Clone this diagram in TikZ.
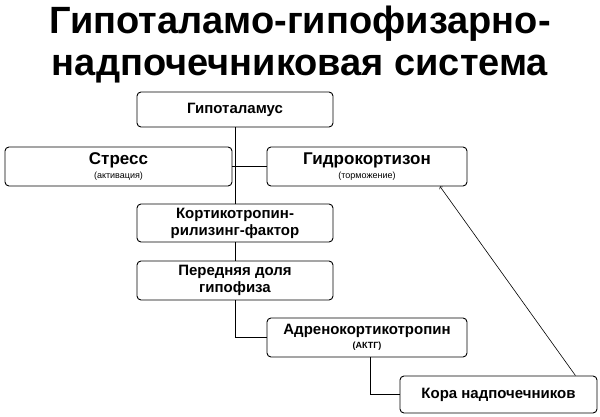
\documentclass[tikz,border=0pt]{standalone}
\usepackage{fontspec}
\setmainfont{Liberation Sans}
\usetikzlibrary{positioning}
\newcommand\smalltxt{\fontsize{9}{10}\selectfont\mdseries}
\newcommand\bigtxt{\fontsize{17}{18}\selectfont}
\tikzset{
  box/.style={draw, rounded corners=4pt, fill=white, align=center, inner sep=1pt,
    font=\fontsize{15}{17}\selectfont\bfseries}
}
\begin{document}
\begin{tikzpicture}[x=1pt,y=-1pt, line width=0.9pt]
  \useasboundingbox (0,0) rectangle (600,417);
  \node[font=\fontsize{38}{42}\selectfont\bfseries, align=center] (title) at (300,45)
    {Гипоталамо-гипофизарно-\\надпочечниковая система};
  \node[box, minimum width=196, minimum height=35] (hyp) at (235,109.5) {Гипоталамус};
  \node[box, minimum width=227, minimum height=39] (stress) at (118.5,166.5)
    {\bigtxt Стресс\\[-3pt]{\smalltxt(активация)}};
  \node[box, minimum width=200, minimum height=39] (hydro) at (367,166.5)
    {\bigtxt Гидрокортизон\\[-3pt]{\smalltxt(торможение)}};
  \node[box, minimum width=196, minimum height=38] (crf) at (235,223)
    {Кортикотропин-\\рилизинг-фактор};
  \node[box, minimum width=196, minimum height=39] (pit) at (235,280.5)
    {Передняя доля\\гипофиза};
  \node[box, minimum width=200, minimum height=39] (acth) at (367,337.5)
    {Адренокортикотропин\\[-3pt]{\smalltxt\bfseries(АКТГ)}};
  \node[box, minimum width=197, minimum height=37] (cortex) at (498.5,394.5)
    {Кора надпочечников};
  \coordinate (tail) at ([xshift=-22pt]cortex.north east);
  \coordinate (head) at ([xshift=73pt]hydro.south);
  \coordinate (drop) at ([xshift=3pt]acth.south);
  % connectors
  \draw (hyp) -- (crf);
  \draw (stress.east) -- (hydro.west);
  \draw (crf) -- (pit);
  \draw (pit.south) |- (acth.west);
  \draw (drop) |- (cortex.west);
  \draw[->, line width=0.6pt] (tail) -- (head);
\end{tikzpicture}
\end{document}
